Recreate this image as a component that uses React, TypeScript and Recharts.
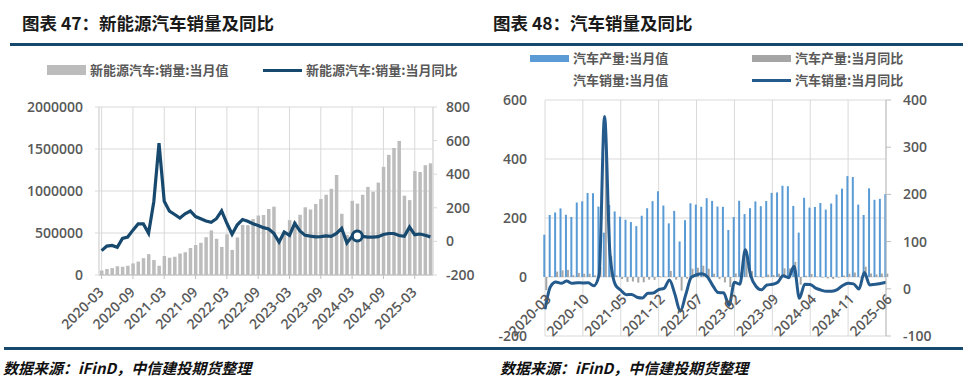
import React from 'react'
import {ComposedChart, Bar, Line, XAxis, YAxis, CartesianGrid, Legend} from 'recharts'

// monthly categories 2020-03 .. 2025-06
const months: string[] = []
for (let y = 2020; y <= 2025; y++) {
  for (let m = 1; m <= 12; m++) {
    if ((y === 2020 && m < 3) || (y === 2025 && m > 6)) continue
    months.push(`${y}-${m < 10 ? '0' + m : m}`)
  }
}

// 图表 47: 新能源汽车 销量 (辆) / 同比 (%)
const nevSales = [
  53000, 72000, 82000, 104000, 98000, 109000, 138000, 160000, 200000, 248000,
  179000, 110000, 226000, 206000, 217000, 256000, 271000, 321000, 357000, 383000, 450000, 531000,
  431000, 334000, 484000, 299000, 447000, 596000, 593000, 666000, 708000, 714000, 786000, 814000,
  408000, 525000, 653000, 636000, 717000, 806000, 780000, 846000, 904000, 956000, 1026000, 1191000,
  729000, 477000, 883000, 850000, 955000, 1049000, 991000, 1100000, 1287000, 1430000, 1512000, 1596000,
  944000, 892000, 1237000, 1226000, 1307000, 1329000,
]
const nevYoY = [
  -55, -28, -24, -35, 18, 26, 67, 104, 104, 49,
  236, 585, 239, 180, 160, 139, 164, 181, 148, 135, 121, 114,
  135, 182, 108, 43, 99, 130, 120, 105, 95, 82, 74, 48,
  -4, 56, 36, 108, 62, 36, 31, 27, 28, 33, 30, 47,
  77, -10, 30, 32, 30, 26, 25, 28, 41, 47, 47, 35,
  30, 85, 40, 44, 37, 27,
]
const nevLeftTicks = [0, 500000, 1000000, 1500000, 2000000]
const nevRightTicks = [-200, 0, 200, 400, 600, 800]
const ringMonth = '2024-04'

// 图表 48: 汽车 产量 (万辆) / 产量同比 / 销量同比 (%)
const autoOutput = [
  143.3, 210.2, 218.7, 232.5, 210.9, 203.6, 252.5, 256.6, 284.7, 284.0,
  238.8, 150.3, 244.0, 222.2, 204.3, 194.3, 186.3, 172.5, 207.7, 233.1, 257.2, 290.7,
  242.2, 181.8, 224.1, 120.5, 192.6, 249.9, 245.5, 238.0, 267.2, 258.0, 238.8, 237.7,
  159.4, 203.2, 258.4, 213.3, 233.3, 256.1, 240.1, 257.5, 285.0, 286.7, 309.3, 307.7,
  241.0, 150.6, 268.7, 235.2, 237.3, 250.7, 228.6, 249.2, 279.6, 299.6, 342.0, 339.0,
  245.4, 210.3, 300.6, 261.7, 264.9, 280.9,
]
const autoOutputYoY = [
  -44.5, 2.3, 18.2, 22.5, 24.0, 6.3, 13.8, 11.0, 10.9, 5.7,
  34.6, 420.5, 69.9, 5.8, -6.8, -16.5, -15.5, -19.1, -17.9, -9.1, -9.7, 2.4,
  1.4, 20.6, -9.1, -46.1, -5.7, 28.2, 31.5, 38.3, 28.1, 11.1, -7.2, -18.2,
  -34.1, 11.9, 15.3, 76.6, 19.8, 2.5, -2.2, 8.2, 6.7, 11.2, 29.4, 29.2,
  51.2, -25.9, 4.0, 10.3, 1.7, -2.1, -4.8, -6.8, -1.9, 4.8, 11.1, 15.2,
  -1.4, 35.1, 11.9, 8.9, 11.6, 11.4,
]
const autoSalesYoY = [
  -43.3, 4.4, 14.5, 11.6, 16.4, 11.6, 12.8, 12.5, 12.6, 6.4,
  29.5, 365.0, 74.9, 8.6, -3.1, -12.4, -11.9, -17.8, -19.6, -9.4, -9.1, -1.6,
  0.9, 18.7, -11.7, -47.6, -12.6, 23.8, 29.7, 32.1, 25.7, 6.9, -7.9, -8.4,
  -35.0, 13.8, 9.7, 82.7, 27.9, 4.8, -2.2, 8.2, 9.5, 13.8, 27.4, 23.5,
  47.9, -19.9, 9.9, 9.3, 1.5, -2.7, -5.2, -5.0, -1.7, 7.0, 11.7, 10.5,
  -0.6, 34.4, 8.2, 9.8, 11.2, 13.8,
]
const autoLeftTicks = [-200, 0, 200, 400, 600]
const autoRightTicks = [-100, 0, 100, 200, 300, 400]

const NEV_BAR = '新能源汽车:销量:当月值'
const NEV_LINE = '新能源汽车:销量:当月同比'
const OUT_BAR = '汽车产量:当月值'
const OUT_YOY = '汽车产量:当月同比'
const SALES_VAL = '汽车销量:当月值'
const SALES_YOY = '汽车销量:当月同比'

const nevData = months.map((month, i) => ({month, sales: nevSales[i], yoy: nevYoY[i]}))
const nevTicks = months.filter((_, i) => i % 6 === 0)
const autoData = months.map((month, i) => ({idx: i, month, output: autoOutput[i], outputYoY: autoOutputYoY[i], salesYoY: autoSalesYoY[i]}))
const autoTicks = months.map((_, i) => i).filter(i => i % 7 === 0)

const DARK = '#17496e'
const GRID = '#d9d9d9'
const tickFont = {fill: '#595959', fontSize: 14, fontWeight: 600, fontFamily: '"Open Sans", sans-serif'}
const legendText: React.CSSProperties = {
  position: 'absolute', fontSize: 13, fontWeight: 600, color: '#595959', lineHeight: '20px',
  fontFamily: '"Noto Sans CJK SC", sans-serif', whiteSpace: 'nowrap',
}

const SlantTick = ({x, y, payload, shiftX, shiftY, label}: any) => {
  const px = x + shiftX
  const py = y + shiftY
  return (
    <text x={px} y={py} transform={`rotate(-45 ${px} ${py})`} textAnchor="end" {...tickFont}>
      {label ? label(payload.value) : payload.value}
    </text>
  )
}

const Marker = ({e, left, top, h}: any) => e.type === 'line'
  ? <div style={{position: 'absolute', left, top: top + 8.5, width: 39, height: 3, background: e.color}} />
  : <div style={{position: 'absolute', left, top: top + 10 - h / 2, width: 39, height: h, background: e.color}} />

const NevLegend = ({payload}: any) => {
  const pos: Record<string, number> = {sales: 47, yoy: 263}
  return (
    <div style={{position: 'relative', width: 490, height: 20}}>
      {(payload || []).map((e: any) => (
        <React.Fragment key={e.dataKey}>
          <Marker e={e} left={pos[e.dataKey]} top={0} h={10} />
          <div style={{...legendText, left: pos[e.dataKey] + 43, top: 0}}>{e.value}</div>
        </React.Fragment>
      ))}
    </div>
  )
}

const AutoLegend = ({payload}: any) => {
  const pos: Record<string, [number, number]> = {output: [40, 0], outputYoY: [262, 0], salesYoY: [262, 22]}
  return (
    <div style={{position: 'relative', width: 483, height: 42}}>
      {(payload || []).map((e: any) => (
        <React.Fragment key={e.dataKey}>
          <Marker e={e} left={pos[e.dataKey][0]} top={pos[e.dataKey][1]} h={7} />
          <div style={{...legendText, left: pos[e.dataKey][0] + 43, top: pos[e.dataKey][1]}}>{e.value}</div>
        </React.Fragment>
      ))}
      <div style={{...legendText, left: 83, top: 22}}>{SALES_VAL}</div>
    </div>
  )
}

const RingDot = (p: any) => p.payload.month === ringMonth
  ? <circle key={p.index} cx={p.cx} cy={p.cy} r={5} fill="#fff" stroke={DARK} strokeWidth={3} />
  : <g key={p.index} />

const NevChart = () => (
  <ComposedChart width={490} height={300} data={nevData} margin={{top: 39, right: 7, bottom: 0, left: 0}}>
    <CartesianGrid yAxisId="left" stroke={GRID} />
    <XAxis dataKey="month" ticks={nevTicks} interval={0} height={73} tickSize={4} stroke="#bfbfbf"
      tick={(p: any) => <SlantTick {...p} shiftX={3} shiftY={12} />} />
    <YAxis yAxisId="left" width={99} domain={[0, 2000000]} ticks={nevLeftTicks} tickSize={4} tickMargin={12}
      stroke={GRID} tick={tickFont} />
    <YAxis yAxisId="right" orientation="right" width={50} domain={[-200, 800]} ticks={nevRightTicks} tickSize={4}
      tickMargin={9} stroke={GRID} tick={tickFont} />
    <Legend verticalAlign="top" wrapperStyle={{top: 12, left: 0, width: 490}} content={NevLegend} />
    <Bar yAxisId="left" dataKey="sales" name={NEV_BAR} fill="#bcbcbc" barSize={3.5} isAnimationActive={false} />
    <Line yAxisId="right" dataKey="yoy" name={NEV_LINE} stroke={DARK} strokeWidth={3.2} dot={RingDot}
      activeDot={false} isAnimationActive={false} />
  </ComposedChart>
)

const AutoChart = () => (
  <ComposedChart width={483} height={300} data={autoData} barGap={0} margin={{top: 10, right: 27, bottom: 0, left: 0}}>
    <CartesianGrid yAxisId="left" stroke={GRID} />
    <XAxis type="number" dataKey="idx" domain={[0, 63]} ticks={autoTicks} interval={0} height={12}
      axisLine={false} tickLine={false}
      tick={(p: any) => <SlantTick {...p} shiftX={7} shiftY={-44} label={(v: number) => months[v]} />} />
    <YAxis yAxisId="left" width={55} domain={[-200, 600]} ticks={autoLeftTicks} axisLine={false} tickLine={false}
      tickSize={6} tickMargin={12} tick={tickFont} />
    <YAxis yAxisId="right" orientation="right" width={60} domain={[-100, 400]} ticks={autoRightTicks}
      stroke="#bfbfbf" tickSize={5} tickMargin={12} tick={tickFont} />
    <Legend verticalAlign="top" wrapperStyle={{top: 0, left: 0, width: 483}} content={AutoLegend} />
    <Bar yAxisId="left" dataKey="output" name={OUT_BAR} fill="#5b9bd5" barSize={2} isAnimationActive={false} />
    <Bar yAxisId="left" dataKey="outputYoY" name={OUT_YOY} fill="#a5a5a5" barSize={2} isAnimationActive={false} />
    <Line yAxisId="right" type="monotone" dataKey="salesYoY" name={SALES_YOY} stroke="#245a8c" strokeWidth={3}
      dot={false} activeDot={false} isAnimationActive={false} />
  </ComposedChart>
)

const title: React.CSSProperties = {
  position: 'absolute', top: 10, fontSize: 17.5, fontWeight: 700, color: '#1a1a1a', whiteSpace: 'nowrap',
}
const source: React.CSSProperties = {
  position: 'absolute', top: 357, fontSize: 15, fontWeight: 700, fontStyle: 'italic', color: '#111', whiteSpace: 'nowrap',
}

export default function App() {
  return (
    <div style={{position: 'absolute', left: 0, top: 0, width: 973, height: 383, background: '#fff', overflow: 'hidden',
      fontFamily: '"Noto Sans CJK SC", sans-serif'}}>
      <div style={{...title, left: 22}}>图表 47：新能源汽车销量及同比</div>
      <div style={{...title, left: 493}}>图表 48：汽车销量及同比</div>
      <div style={{position: 'absolute', left: 10, top: 43, width: 953, height: 3, background: DARK}} />
      <div style={{position: 'absolute', left: 0, top: 48}}><NevChart /></div>
      <div style={{position: 'absolute', left: 490, top: 48}}><AutoChart /></div>
      <div style={{position: 'absolute', left: 4, top: 347, width: 959, height: 3, background: DARK}} />
      <div style={{...source, left: 3}}>数据来源：iFinD，中信建投期货整理</div>
      <div style={{...source, left: 500}}>数据来源：iFinD，中信建投期货整理</div>
    </div>
  )
}
